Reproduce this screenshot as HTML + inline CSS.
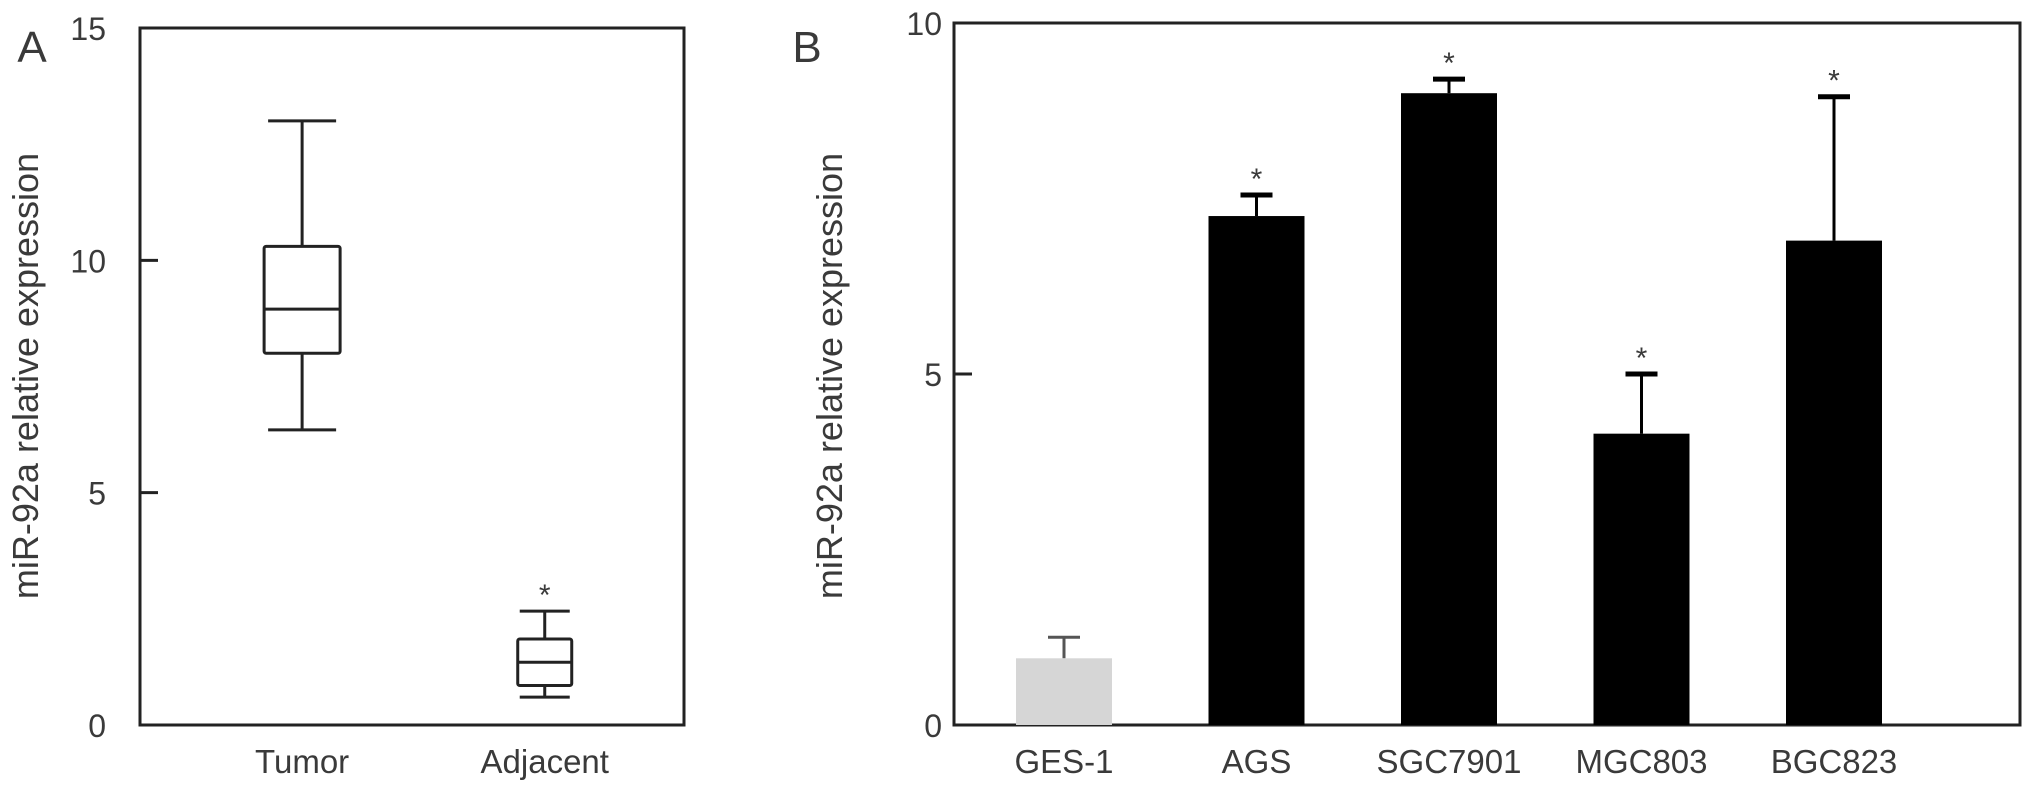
<!DOCTYPE html>
<html><head><meta charset="utf-8"><style>
html,body{margin:0;padding:0;background:#fff;width:2031px;height:791px;overflow:hidden}
svg text{font-family:"Liberation Sans",sans-serif;fill:#3a3a3a}
</style></head><body>
<svg id="chart" width="2031" height="791" viewBox="0 0 2031 791" xmlns="http://www.w3.org/2000/svg"></svg>
<script>
// Panel A data
const boxCategories = ["Tumor", "Adjacent"];
const boxMin = [6.35, 0.6];
const boxQ1 = [8.0, 0.85];
const boxMedian = [8.95, 1.35];
const boxQ3 = [10.3, 1.85];
const boxMax = [13.0, 2.45];
const boxStar = [false, true];
const aTicks = [0, 5, 10, 15];
// Panel B data
const barCategories = ["GES-1", "AGS", "SGC7901", "MGC803", "BGC823"];
const barValues = [0.95, 7.25, 9.0, 4.15, 6.9];
const barErrors = [0.3, 0.3, 0.2, 0.85, 2.05];
const barStar = [false, true, true, true, true];
const barColors = ["#d6d6d6", "#000", "#000", "#000", "#000"];
const bTicks = [0, 5, 10];

const svg = document.getElementById('chart');
const NS = 'http://www.w3.org/2000/svg';
function mk(tag, attrs, parent) {
  const e = document.createElementNS(NS, tag);
  for (const k in attrs) e.setAttribute(k, attrs[k]);
  (parent || svg).appendChild(e);
  return e;
}
function txt(s, x, y, size, anchor, parent) {
  const t = mk('text', {x: x, y: y, 'font-size': size, 'text-anchor': anchor || 'middle'}, parent);
  t.textContent = s;
  return t;
}
const LW = 3;

// ---------- Panel A ----------
const A = {l: 140, r: 684, t: 28, b: 725, max: 15};
const ay = v => A.b - (v / A.max) * (A.b - A.t);
const ax = i => A.l + (A.r - A.l) * (0.298 + i * 0.446);
const gA = mk('g', {});


const la = txt('A', 32, 62, 44, 'middle', gA);


const frA = mk('rect', {x: A.l, y: A.t, width: A.r - A.l, height: A.b - A.t, fill: 'none', stroke: '#222', 'stroke-width': LW}, gA);


aTicks.forEach(v => {
  const y = ay(v);
  if (v > 0 && v < A.max) {
    const tk = mk('line', {x1: A.l, x2: A.l + 18, y1: y, y2: y, stroke: '#222', 'stroke-width': LW}, gA);
    
    
  }
  const tl = txt(String(v), 106, y + 12, 32, 'end', gA);
  
  
});
const ytA = txt('miR-92a relative expression', 0, 0, 36, 'middle', gA);
ytA.setAttribute('transform', 'translate(38,376) rotate(-90)');


boxCategories.forEach((c, i) => {
  const cx = ax(i);
  const w = i === 0 ? 76 : 54, cw = i === 0 ? 68 : 50;
  const g = mk('g', {stroke: '#222', 'stroke-width': LW, fill: 'none'}, gA);
  
  
  mk('line', {x1: cx, x2: cx, y1: ay(boxMax[i]), y2: ay(boxQ3[i])}, g);
  mk('line', {x1: cx, x2: cx, y1: ay(boxQ1[i]), y2: ay(boxMin[i])}, g);
  mk('line', {x1: cx - cw / 2, x2: cx + cw / 2, y1: ay(boxMax[i]), y2: ay(boxMax[i])}, g);
  mk('line', {x1: cx - cw / 2, x2: cx + cw / 2, y1: ay(boxMin[i]), y2: ay(boxMin[i])}, g);
  mk('rect', {x: cx - w / 2, y: ay(boxQ3[i]), width: w, height: ay(boxQ1[i]) - ay(boxQ3[i]), rx: 2}, g);
  mk('line', {x1: cx - w / 2, x2: cx + w / 2, y1: ay(boxMedian[i]), y2: ay(boxMedian[i])}, g);
  if (boxStar[i]) {
    const s = txt('*', cx, ay(boxMax[i]) - 6, 30, 'middle', gA);
    
    
  }
  const xl = txt(c, cx, 773, 33, 'middle', gA);
  
  
});

// ---------- Panel B ----------
const B = {l: 954, r: 2020, t: 23, b: 725, max: 10};
const by = v => B.b - (v / B.max) * (B.b - B.t);
const bx = i => 1064 + i * 192.5;
const gB = mk('g', {});


const lb = txt('B', 807, 62, 44, 'middle', gB);


const frB = mk('rect', {x: B.l, y: B.t, width: B.r - B.l, height: B.b - B.t, fill: 'none', stroke: '#222', 'stroke-width': LW}, gB);


bTicks.forEach(v => {
  const y = by(v);
  if (v > 0 && v < B.max) {
    const tk = mk('line', {x1: B.l, x2: B.l + 18, y1: y, y2: y, stroke: '#222', 'stroke-width': LW}, gB);
    
    
  }
  const tl = txt(String(v), 942, y + 12, 32, 'end', gB);
  
  
});
const ytB = txt('miR-92a relative expression', 0, 0, 36, 'middle', gB);
ytB.setAttribute('transform', 'translate(842,376) rotate(-90)');


barCategories.forEach((c, i) => {
  const cx = bx(i), w = 96;
  const top = by(barValues[i]), et = by(barValues[i] + barErrors[i]);
  const g = mk('g', {}, gB);
  
  
  mk('line', {x1: cx, x2: cx, y1: top, y2: et, stroke: i === 0 ? '#555' : '#000', 'stroke-width': LW}, g);
  mk('line', {x1: cx - 16, x2: cx + 16, y1: et, y2: et, stroke: i === 0 ? '#555' : '#000', 'stroke-width': i === 0 ? LW : 5}, g);
  mk('rect', {x: cx - w / 2, y: top, width: w, height: B.b - top, fill: barColors[i]}, g);
  if (barStar[i]) {
    const s = txt('*', cx, et - 6, 30, 'middle', gB);
    
    
  }
  const xl = txt(c, cx, 773, 33, 'middle', gB);
  
  
});
</script>
</body></html>
